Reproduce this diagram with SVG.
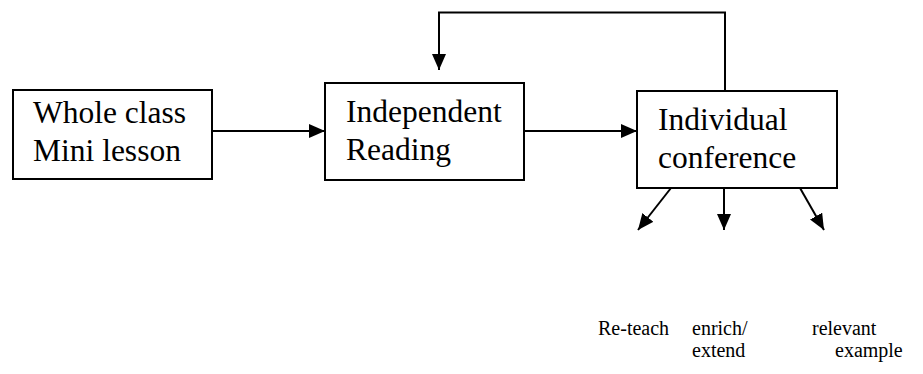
<svg xmlns="http://www.w3.org/2000/svg" width="923" height="374" viewBox="0 0 923 374">
  <style>
    .box { fill: #fff; stroke: #000; stroke-width: 2; }
    .line { fill: none; stroke: #000; stroke-width: 2; }
    text { font-family: 'Liberation Serif', 'Times New Roman', 'DejaVu Serif', serif; fill: #000; }
    .big { font-size: 31.5px; }
    .small { font-size: 20px; }
  </style>
  <defs>
    <marker id="arrow" viewBox="0 0 16 14" refX="16" refY="7" markerWidth="16" markerHeight="14" markerUnits="userSpaceOnUse" orient="auto">
      <path d="M0,0 L16,7 L0,14 Z" fill="#000"/>
    </marker>
  </defs>

  <g id="connectors">
    <line class="line" x1="212" y1="131" x2="325" y2="131" marker-end="url(#arrow)"/>
    <line class="line" x1="524" y1="131" x2="637" y2="131" marker-end="url(#arrow)"/>
    <polyline class="line" points="725,91 725,12.5 439,12.5 439,70" marker-end="url(#arrow)"/>
    <line class="line" x1="671" y1="188" x2="638" y2="230" marker-end="url(#arrow)"/>
    <line class="line" x1="724" y1="188" x2="724" y2="230" marker-end="url(#arrow)"/>
    <line class="line" x1="800" y1="188" x2="824" y2="230" marker-end="url(#arrow)"/>
  </g>

  <g id="whole-class">
    <rect class="box" x="13" y="90" width="199" height="89"/>
    <text class="big" x="33" y="123">Whole class</text>
    <text class="big" x="33" y="161">Mini lesson</text>
  </g>

  <g id="independent-reading">
    <rect class="box" x="325" y="83" width="199" height="97"/>
    <text class="big" x="346" y="122">Independent</text>
    <text class="big" x="346" y="160">Reading</text>
  </g>

  <g id="individual-conference">
    <rect class="box" x="637" y="91" width="200" height="97"/>
    <text class="big" x="658" y="130">Individual</text>
    <text class="big" x="658" y="168">conference</text>
  </g>

  <g id="outcomes">
    <text class="small" x="598" y="335">Re-teach</text>
    <text class="small" x="692" y="335">enrich/</text>
    <text class="small" x="692" y="357">extend</text>
    <text class="small" x="812" y="335">relevant</text>
    <text class="small" x="835" y="357">example</text>
  </g>
</svg>
